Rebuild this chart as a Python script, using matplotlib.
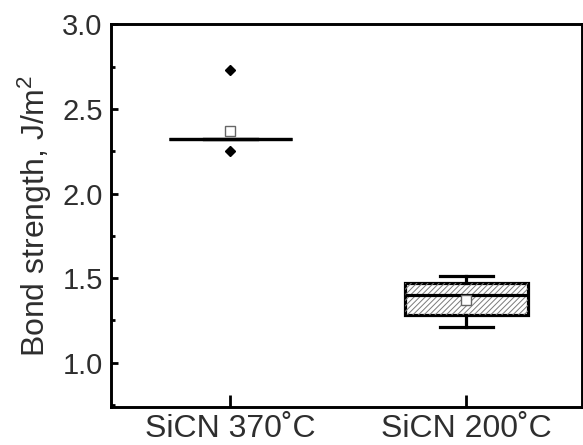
import matplotlib
matplotlib.use("Agg")
import matplotlib.pyplot as plt
from matplotlib.patches import PathPatch
from matplotlib.ticker import MultipleLocator, FormatStrFormatter

categories = ["SiCN 370\u02daC", "SiCN 200\u02daC"]
q1 = [2.32, 1.28]
med = [2.32, 1.40]
q3 = [2.32, 1.47]
whislo = [2.32, 1.21]
whishi = [2.32, 1.515]
means = [2.37, 1.37]
fliers = [[2.73, 2.25], []]
hatched = [False, True]

plt.rcParams['font.family'] = ['Liberation Sans', 'DejaVu Sans']
plt.rcParams['mathtext.fontset'] = 'custom'
plt.rcParams['mathtext.rm'] = 'Liberation Sans'
plt.rcParams['mathtext.it'] = 'Liberation Sans:italic'
plt.rcParams['hatch.linewidth'] = 0.7

txt = '#2e2e2e'
fig = plt.figure(figsize=(5.83, 4.45), dpi=100)
ax = fig.add_axes([0.1904, 0.086, 0.8076, 0.859])

stats = []
for i in range(len(categories)):
    stats.append(dict(label=categories[i], q1=q1[i], med=med[i], q3=q3[i],
                      whislo=whislo[i], whishi=whishi[i], mean=means[i],
                      fliers=fliers[i]))

lw = 2.3
res = ax.bxp(stats, positions=[1, 2], widths=0.52, capwidths=0.225,
             patch_artist=True, showmeans=True,
             boxprops=dict(facecolor='white', edgecolor='black', linewidth=lw),
             medianprops=dict(color='black', linewidth=lw),
             whiskerprops=dict(color='black', linewidth=lw),
             capprops=dict(color='black', linewidth=lw),
             flierprops=dict(marker='D', markerfacecolor='black', markeredgecolor='black',
                             markersize=5.5),
             meanprops=dict(marker='s', markerfacecolor='white', markeredgecolor='#666666',
                            markersize=7, markeredgewidth=1.0))

for box, h in zip(res['boxes'], hatched):
    box.set_zorder(2)
    if h:
        hp = PathPatch(box.get_path(), transform=box.get_transform(), facecolor='none',
                       edgecolor='#7a7a7a', linewidth=0, hatch='//////', zorder=2.1)
        ax.add_patch(hp)
for key in ['medians', 'whiskers', 'caps']:
    for l in res[key]:
        l.set_zorder(3)
for l in res['means']:
    l.set_zorder(4)
for l in res['fliers']:
    l.set_zorder(4)

ax.set_xlim(0.495, 2.49)
ax.set_ylim(0.74, 3.0)
ax.yaxis.set_major_locator(MultipleLocator(0.5))
ax.yaxis.set_minor_locator(MultipleLocator(0.25))
ax.yaxis.set_major_formatter(FormatStrFormatter('%.1f'))

for s in ax.spines.values():
    s.set_linewidth(2.1)
ax.tick_params(axis='y', which='major', direction='in', length=5, width=2.0,
               labelsize=21, labelcolor=txt, pad=6, right=False)
ax.tick_params(axis='y', which='minor', direction='in', length=3, width=2.0, right=False)
ax.tick_params(axis='x', which='major', direction='in', length=9, width=2.0,
               labelsize=23, labelcolor=txt, pad=5, top=False)
ax.set_ylabel('Bond strength, J/m$^2$', fontsize=23, color=txt, labelpad=6)

fig.savefig('out.png', dpi=100)
